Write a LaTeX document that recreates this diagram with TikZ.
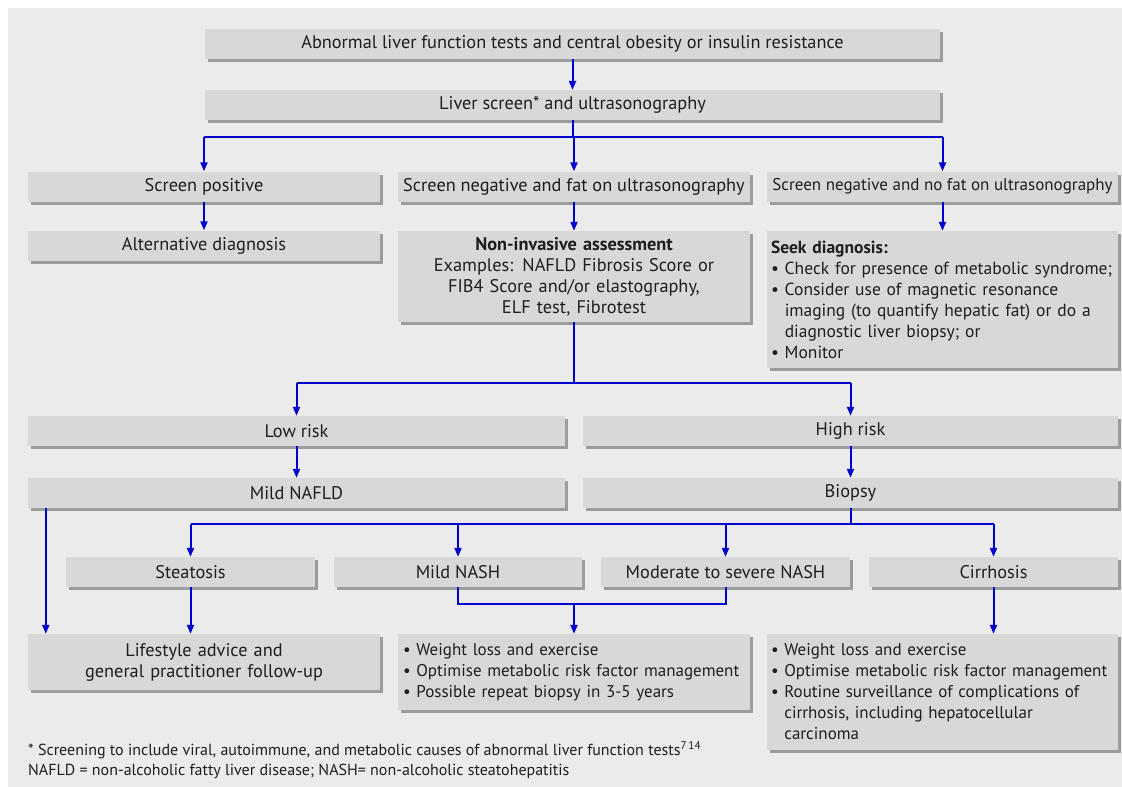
\documentclass[tikz,border=0pt]{standalone}
\usepackage{fontspec}
\setmainfont{PT Sans}
\usetikzlibrary{arrows.meta,shadows}
\definecolor{bggrey}{HTML}{EBEBEB}
\definecolor{boxgrey}{HTML}{D8D8D8}
\definecolor{shadowgrey}{HTML}{9C9C9C}
\definecolor{flowblue}{HTML}{0000CC}
\definecolor{txt}{HTML}{1E1E1E}
\newcommand{\bul}{\textbullet\ }
\newcommand{\ind}{\hphantom{\textbullet\ }}

\begin{document}
\begin{tikzpicture}[x=1pt,y=-1pt,
    box/.style={fill=boxgrey, text=txt, inner sep=0pt, minimum height=30pt,
      drop shadow={shadow xshift=3pt, shadow yshift=-3pt, fill=shadowgrey, opacity=1},
      font=\fontsize{18.3}{21}\selectfont},
    small/.style={font=\fontsize{17}{21}\selectfont},
    line/.style={flowblue, line width=2pt},
    arr/.style={line, -{Triangle[length=9pt,width=7pt]}},
    note/.style={anchor=west, text=txt, inner sep=0pt, font=\fontsize{16}{19}\selectfont}]
  \useasboundingbox (0,0) rectangle (1122,787);
  \fill[bggrey] (8,8) rectangle (1122,787);

  \node[box, minimum width=735pt] (top) at (572.5,44)
    {Abnormal liver function tests and central obesity or insulin resistance};
  \node[box, minimum width=735pt] (screen) at (572.5,105)
    {Liver screen* and ultrasonography};

  \node[box, minimum width=352pt] (pos) at (204,186.5) {Screen positive};
  \node[box, minimum width=352pt] (fat) at (574,186.5)
    {Screen negative and fat on ultrasonography};
  \node[box, small, minimum width=351pt] (nofat) at (942.5,186.5)
    {Screen negative and no fat on ultrasonography};

  \node[box, minimum width=352pt] (altdx) at (204,245.5) {Alternative diagnosis};
  \node[box, minimum width=352pt, minimum height=91pt, text width=340pt, align=center]
    (assess) at (574,276.5)
    {\textbf{Non-invasive assessment}\\
     Examples: NAFLD Fibrosis Score or\\
     FIB4 Score and/or elastography,\\
     ELF test, Fibrotest};
  \node[box, font=\fontsize{17.5}{21}\selectfont, minimum width=351pt, minimum height=137pt,
    text width=343pt, align=left] (seek) at (942.5,299.5)
    {\textbf{Seek diagnosis:}\\
     \bul Check for presence of metabolic syndrome;\\
     \bul Consider use of magnetic resonance\\
     \ind imaging (to quantify hepatic fat) or do a\\
     \ind diagnostic liver biopsy; or\\
     \bul Monitor};

  \node[box, minimum width=537pt] (low) at (296.5,431) {Low risk};
  \node[box, minimum width=535pt] (high) at (850.5,431) {High risk};
  \node[box, minimum width=537pt] (mild) at (296.5,493) {Mild NAFLD};
  \node[box, minimum width=535pt] (biopsy) at (850.5,493) {Biopsy};

  \node[box, minimum width=249pt] (steat) at (190.5,572) {Steatosis};
  \node[box, minimum width=248pt] (mnash) at (458,572) {Mild NASH};
  \node[box, minimum width=249pt] (snash) at (725.5,572) {Moderate to severe NASH};
  \node[box, minimum width=249pt] (cirr) at (993.5,572) {Cirrhosis};

  \node[box, minimum width=352pt, minimum height=56pt, text width=340pt, align=center]
    (life) at (204,662)
    {Lifestyle advice and\\ general practitioner follow-up};
  \node[box, small, minimum width=352pt, minimum height=76pt, text width=342pt, align=left]
    (manage) at (574,672)
    {\bul Weight loss and exercise\\
     \bul Optimise metabolic risk factor management\\
     \bul Possible repeat biopsy in 3-5 years};
  \node[box, small, minimum width=351pt, minimum height=116pt, text width=343pt, align=left]
    (surv) at (942.5,692)
    {\bul Weight loss and exercise\\
     \bul Optimise metabolic risk factor management\\
     \bul Routine surveillance of complications of\\
     \ind cirrhosis, including hepatocellular\\
     \ind carcinoma};

  \node[note] (note1) at (28,750)
    {* Screening to include viral, autoimmune, and metabolic causes of abnormal liver function tests\textsuperscript{7\,14}};
  \node[note] (note2) at (28,771)
    {NAFLD = non-alcoholic fatty liver disease; NASH= non-alcoholic steatohepatitis};

  % connectors
  \draw[arr] (top) -- (screen);
  \draw[line] (screen.south) -- ++(0,17) coordinate (s1);
  \draw[line] (s1 -| pos.north) -- (s1 -| nofat.north);
  \foreach \n in {pos,fat,nofat}
    \draw[arr] (s1 -| \n.north) -- (\n.north);
  \draw[arr] (pos) -- (altdx);
  \draw[arr] (fat) -- (assess);
  \draw[arr] (nofat) -- (seek);

  \draw[line] (assess.south) -- ++(0,61) coordinate (s2);
  \draw[line] (s2 -| low.north) -- (s2 -| high.north);
  \draw[arr] (s2 -| low.north) -- (low.north);
  \draw[arr] (s2 -| high.north) -- (high.north);
  \draw[arr] (low) -- (mild);
  \draw[arr] (high) -- (biopsy);

  \draw[line] (biopsy.south) -- ++(0,16) coordinate (s3);
  \draw[line] (s3 -| steat.north) -- (s3 -| cirr.north);
  \foreach \n in {steat,mnash,snash,cirr}
    \draw[arr] (s3 -| \n.north) -- (\n.north);

  \draw[arr] ([xshift=18pt]mild.south west) -- ([xshift=18pt]life.north west);
  \draw[arr] (steat.south) -- (steat.south |- life.north);
  \draw[line] (mnash.south) -- ++(0,17) coordinate (s4) -| (snash.south);
  \draw[arr] (s4 -| manage.north) -- (manage.north);
  \draw[arr] (cirr.south) -- (cirr.south |- surv.north);
\end{tikzpicture}
\end{document}
